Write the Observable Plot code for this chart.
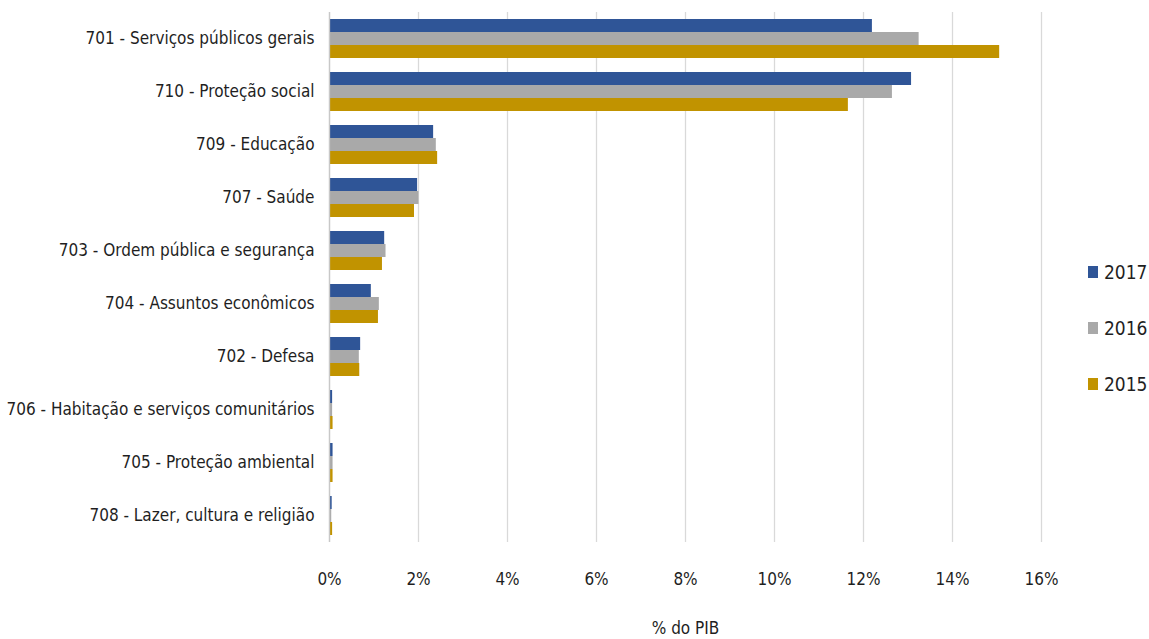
<!DOCTYPE html>
<html>
<head>
<meta charset="utf-8">
<script src="https://cdn.jsdelivr.net/npm/d3@7"></script>
<script src="https://cdn.jsdelivr.net/npm/@observablehq/plot@0.6"></script>
<style>
  html, body { margin: 0; padding: 0; background: #fff; }
  #wrap { position: relative; width: 1149px; height: 639px; font-family: "Liberation Sans Narrow", "DejaVu Sans Condensed", "Roboto", sans-serif; color: #1f1f1f; }
  #legend { position: absolute; left: 1088px; top: 258px; font-size: 19px; }
  #legend .item { display: flex; align-items: center; height: 28px; margin-bottom: 28px; }
  #legend .sw { width: 10px; height: 12px; margin-right: 6px; }
</style>
</head>
<body>
<div id="wrap"><div id="chart"></div><div id="legend"></div></div>
<script>
const categories = [
  "701 - Serviços públicos gerais",
  "710 - Proteção social",
  "709 - Educação",
  "707 - Saúde",
  "703 - Ordem pública e segurança",
  "704 - Assuntos econômicos",
  "702 - Defesa",
  "706 - Habitação e serviços comunitários",
  "705 - Proteção ambiental",
  "708 - Lazer, cultura e religião"
];
const years = ["2017", "2016", "2015"];
const v2017 = [12.20, 13.08, 2.34, 1.98, 1.24, 0.94, 0.70, 0.07, 0.08, 0.06];
const v2016 = [13.25, 12.65, 2.40, 2.01, 1.27, 1.12, 0.67, 0.07, 0.08, 0.05];
const v2015 = [15.06, 11.66, 2.43, 1.91, 1.19, 1.10, 0.68, 0.08, 0.08, 0.07];
const colors = ["#2F5597", "#A9A9A9", "#C19300"];
const xTicks = [0, 2, 4, 6, 8, 10, 12, 14, 16];

const series = {"2017": v2017, "2016": v2016, "2015": v2015};
const data = [];
categories.forEach((c, i) => {
  years.forEach(y => data.push({cat: c, year: y, v: series[y][i]}));
});

const chart = Plot.plot({
  width: 1149,
  height: 639,
  marginLeft: 329,
  marginRight: 108,
  marginTop: 10,
  marginBottom: 95,
  style: {fontFamily: '"Liberation Sans Narrow", "DejaVu Sans Condensed", Roboto, sans-serif', fontSize: "17px", color: "#1f1f1f", background: "white"},
  x: {domain: [0, 16], ticks: xTicks, tickFormat: d => d + "%", tickSize: 0, tickPadding: 30, label: "% do PIB", labelArrow: "none", labelAnchor: "center", labelOffset: 91},
  fy: {domain: categories, padding: 0, axis: "left", label: null, tickSize: 0, tickPadding: 15},
  y: {domain: years, paddingInner: 0, paddingOuter: 0.5, axis: null},
  color: {domain: years, range: colors},
  facet: {data, y: "cat"},
  marks: [
    Plot.gridX(xTicks, {stroke: "#d9d9d9", strokeOpacity: 1, strokeWidth: 1.3}),
    Plot.barX(data, {x: "v", y: "year", fill: "year"}),
    Plot.ruleX([0], {stroke: "#c8c8c8", strokeWidth: 1.3})
  ]
});
document.getElementById("chart").appendChild(chart);

const legend = document.getElementById("legend");
years.forEach((y, i) => {
  const item = document.createElement("div");
  item.className = "item";
  const sw = document.createElement("div");
  sw.className = "sw";
  sw.style.background = colors[i];
  const t = document.createElement("span");
  t.textContent = y;
  item.appendChild(sw);
  item.appendChild(t);
  legend.appendChild(item);
});
</script>
</body>
</html>
